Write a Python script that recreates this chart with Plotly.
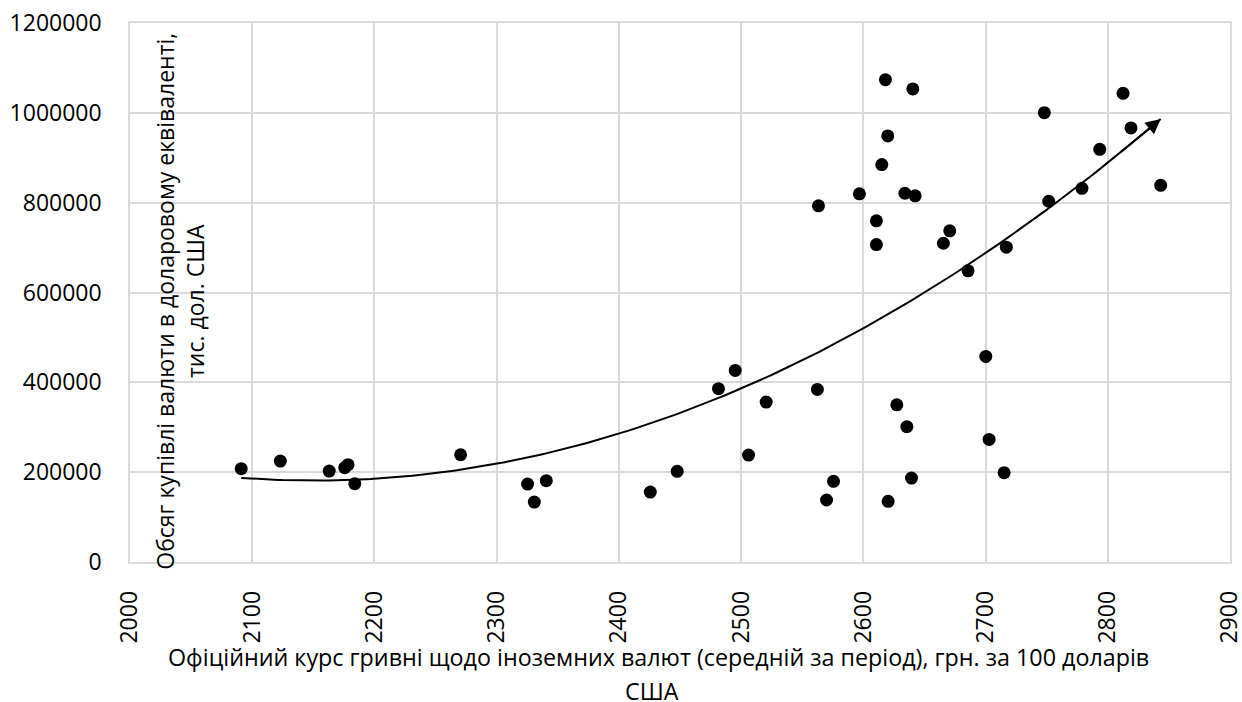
import numpy as np
import plotly.graph_objects as go

# Official hryvnia rate (UAH per 100 USD)
rate = [2091, 2123, 2163, 2175.7, 2178.4, 2183.9, 2270.5, 2325.3, 2330.8, 2340.6,
        2425.7, 2447.7, 2481.5, 2495.2, 2506.1, 2520.5, 2562.4, 2563.3, 2569.9, 2575.6,
        2596.8, 2610.7, 2610.7, 2615.1, 2618.1, 2620.0, 2620.3, 2627.4, 2634, 2635.6,
        2639.4, 2640.5, 2642.4, 2665.5, 2670.7, 2685.7, 2700.2, 2702.9, 2715.2, 2717,
        2748.1, 2751.7, 2778.9, 2793.4, 2812.5, 2819, 2843.3]
# Currency purchase volume, thousand USD
volume = [207800, 224700, 202400, 210000, 216700, 174400, 238800, 173500, 133500, 181000,
          155700, 201800, 385800, 426500, 238000, 356000, 384200, 792900, 138000, 179500,
          819600, 759600, 706800, 884800, 1073800, 948600, 135000, 350000, 821000, 301200,
          186900, 1053200, 815200, 709700, 737300, 648300, 457600, 273000, 198900, 700800,
          1000400, 803100, 832000, 918800, 1043400, 966400, 838700]

x_ticks = [2000, 2100, 2200, 2300, 2400, 2500, 2600, 2700, 2800, 2900]
y_ticks = [0, 200000, 400000, 600000, 800000, 1000000, 1200000]

x_title_1 = "Офіційний курс гривні щодо іноземних валют (середній за період), грн. за 100 доларів"
x_title_2 = "США"
y_title = "Обсяг купівлі валюти в доларовому еквіваленті,<br>тис. дол. США"

# 2nd-order polynomial trendline fitted on the data
coef = np.polyfit(rate, volume, 2)
tx = np.linspace(min(rate), max(rate), 200)
ty = np.polyval(coef, tx)

FONT = "Open Sans"

fig = go.Figure()
fig.add_trace(go.Scatter(x=rate, y=volume, mode="markers",
                         marker=dict(color="black", size=13),
                         showlegend=False, hoverinfo="x+y"))
fig.add_trace(go.Scatter(x=tx, y=ty, mode="lines",
                         line=dict(color="black", width=2),
                         showlegend=False, hoverinfo="skip"))

fig.add_annotation(x=tx[-1], y=ty[-1], ax=tx[-10], ay=ty[-10],
                   xref="x", yref="y", axref="x", ayref="y",
                   text="", showarrow=True, arrowhead=2, arrowsize=1.5,
                   arrowwidth=2, arrowcolor="black", standoff=0)

fig.add_annotation(x=0.046, y=0.484, xref="paper", yref="paper",
                   text=y_title, textangle=-90, showarrow=False,
                   font=dict(family=FONT, size=23, color="black"),
                   xanchor="center", yanchor="middle", align="center")

fig.add_annotation(x=0.4802, y=-0.1763, xref="paper", yref="paper",
                   text=x_title_1, showarrow=False,
                   font=dict(family=FONT, size=23.3, color="black"),
                   xanchor="center", yanchor="middle")
fig.add_annotation(x=0.4748, y=-0.2401, xref="paper", yref="paper",
                   text=x_title_2, showarrow=False,
                   font=dict(family=FONT, size=23.3, color="black"),
                   xanchor="center", yanchor="middle")

fig.update_layout(
    width=1242, height=702,
    margin=dict(l=129.5, r=12, t=22.7, b=140.3, autoexpand=False),
    paper_bgcolor="white", plot_bgcolor="white",
    font=dict(family=FONT, size=23, color="black"),
    xaxis=dict(range=[2000, 2900], tickvals=x_ticks, ticktext=[str(v) for v in x_ticks],
               tickangle=-90, showgrid=True, gridcolor="#d9d9d9", gridwidth=1.5,
               showline=True, linecolor="#d9d9d9", linewidth=1.5, mirror=True,
               zeroline=False, ticks="", ticklabelstandoff=18, automargin=False,
               ticklabeloverflow="allow"),
    yaxis=dict(range=[0, 1200000], tickvals=y_ticks, ticktext=[str(v) for v in y_ticks],
               showgrid=True, gridcolor="#d9d9d9", gridwidth=1.5,
               showline=True, linecolor="#d9d9d9", linewidth=1.5, mirror=True,
               zeroline=False, ticks="", ticklabelstandoff=22, automargin=False,
               ticklabeloverflow="allow"),
)

fig.write_html("out.html", config={"displayModeBar": False},
               post_script="document.body.style.margin='0';document.body.style.overflow='hidden';")
